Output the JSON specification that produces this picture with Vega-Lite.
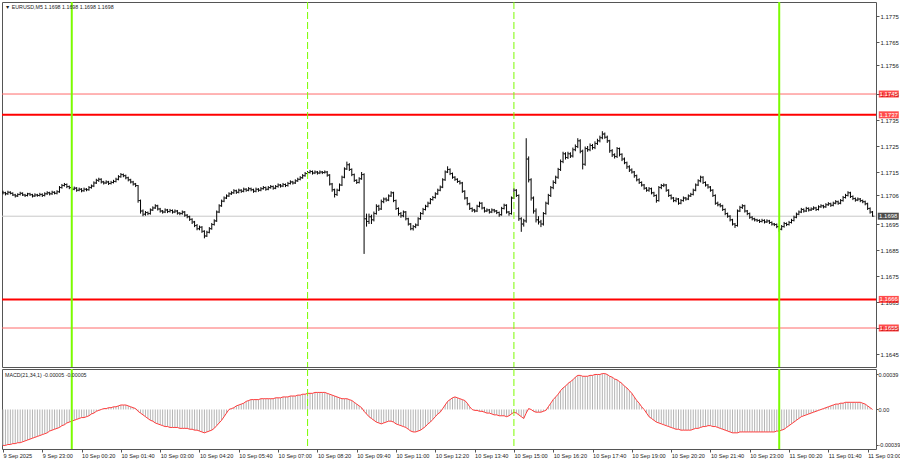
{
"$schema":"https://vega.github.io/schema/vega-lite/v6.json",
"background":"white",
"padding":{"left":1,"top":1,"right":0,"bottom":0},
"spacing":0,
"config":{"view":{"stroke":"#555555","strokeWidth":1},"scale":{"continuousPadding":0},"axis":{"labelFont":"Liberation Sans","labelFontSize":6,"labelColor":"#222222","tickColor":"#555555","tickSize":3,"labelPadding":1,"domain":false,"grid":false,"labelOverlap":false},"text":{"font":"Liberation Sans","fontSize":5.3,"color":"#222222"}},
"datasets":{
"bars":[
{"t":"2025-09-09T21:40","o":1.17072,"h":1.17078,"l":1.17064,"c":1.17070,"m":-0.00040},
{"t":"2025-09-09T21:45","o":1.17070,"h":1.17074,"l":1.17060,"c":1.17066,"m":-0.00040},
{"t":"2025-09-09T21:50","o":1.17066,"h":1.17078,"l":1.17062,"c":1.17072,"m":-0.00039},
{"t":"2025-09-09T21:55","o":1.17072,"h":1.17076,"l":1.17064,"c":1.17068,"m":-0.00039},
{"t":"2025-09-09T22:00","o":1.17068,"h":1.17072,"l":1.17058,"c":1.17062,"m":-0.00038},
{"t":"2025-09-09T22:05","o":1.17062,"h":1.17066,"l":1.17052,"c":1.17058,"m":-0.00038},
{"t":"2025-09-09T22:10","o":1.17058,"h":1.17068,"l":1.17054,"c":1.17064,"m":-0.00037},
{"t":"2025-09-09T22:15","o":1.17064,"h":1.17074,"l":1.17060,"c":1.17068,"m":-0.00037},
{"t":"2025-09-09T22:20","o":1.17068,"h":1.17072,"l":1.17058,"c":1.17062,"m":-0.00036},
{"t":"2025-09-09T22:25","o":1.17062,"h":1.17066,"l":1.17054,"c":1.17060,"m":-0.00035},
{"t":"2025-09-09T22:30","o":1.17060,"h":1.17070,"l":1.17056,"c":1.17066,"m":-0.00034},
{"t":"2025-09-09T22:35","o":1.17066,"h":1.17070,"l":1.17058,"c":1.17063,"m":-0.00033},
{"t":"2025-09-09T22:40","o":1.17063,"h":1.17066,"l":1.17052,"c":1.17058,"m":-0.00032},
{"t":"2025-09-09T22:45","o":1.17058,"h":1.17068,"l":1.17054,"c":1.17062,"m":-0.00031},
{"t":"2025-09-09T22:50","o":1.17062,"h":1.17066,"l":1.17055,"c":1.17060,"m":-0.00030},
{"t":"2025-09-09T22:55","o":1.17060,"h":1.17070,"l":1.17056,"c":1.17064,"m":-0.00029},
{"t":"2025-09-09T23:00","o":1.17064,"h":1.17068,"l":1.17054,"c":1.17060,"m":-0.00028},
{"t":"2025-09-09T23:05","o":1.17060,"h":1.17072,"l":1.17056,"c":1.17066,"m":-0.00027},
{"t":"2025-09-09T23:10","o":1.17066,"h":1.17076,"l":1.17062,"c":1.17070,"m":-0.00026},
{"t":"2025-09-09T23:15","o":1.17070,"h":1.17074,"l":1.17060,"c":1.17066,"m":-0.00024},
{"t":"2025-09-09T23:20","o":1.17066,"h":1.17078,"l":1.17062,"c":1.17072,"m":-0.00023},
{"t":"2025-09-09T23:25","o":1.17072,"h":1.17076,"l":1.17064,"c":1.17068,"m":-0.00022},
{"t":"2025-09-09T23:30","o":1.17068,"h":1.17080,"l":1.17064,"c":1.17074,"m":-0.00021},
{"t":"2025-09-09T23:35","o":1.17074,"h":1.17096,"l":1.17070,"c":1.17090,"m":-0.00020},
{"t":"2025-09-09T23:40","o":1.17090,"h":1.17104,"l":1.17086,"c":1.17098,"m":-0.00018},
{"t":"2025-09-09T23:45","o":1.17098,"h":1.17108,"l":1.17094,"c":1.17102,"m":-0.00017},
{"t":"2025-09-09T23:50","o":1.17102,"h":1.17106,"l":1.17088,"c":1.17094,"m":-0.00015},
{"t":"2025-09-09T23:55","o":1.17094,"h":1.17098,"l":1.17084,"c":1.17090,"m":-0.00014},
{"t":"2025-09-10T00:00","o":1.17090,"h":1.17094,"l":1.17078,"c":1.17084,"m":-0.00013},
{"t":"2025-09-10T00:05","o":1.17084,"h":1.17094,"l":1.17080,"c":1.17088,"m":-0.00012},
{"t":"2025-09-10T00:10","o":1.17088,"h":1.17092,"l":1.17074,"c":1.17080,"m":-0.00011},
{"t":"2025-09-10T00:15","o":1.17080,"h":1.17090,"l":1.17076,"c":1.17084,"m":-0.00010},
{"t":"2025-09-10T00:20","o":1.17084,"h":1.17088,"l":1.17072,"c":1.17078,"m":-0.00009},
{"t":"2025-09-10T00:25","o":1.17078,"h":1.17090,"l":1.17074,"c":1.17084,"m":-0.00009},
{"t":"2025-09-10T00:30","o":1.17084,"h":1.17088,"l":1.17076,"c":1.17082,"m":-0.00008},
{"t":"2025-09-10T00:35","o":1.17082,"h":1.17096,"l":1.17078,"c":1.17090,"m":-0.00007},
{"t":"2025-09-10T00:40","o":1.17090,"h":1.17102,"l":1.17086,"c":1.17096,"m":-0.00005},
{"t":"2025-09-10T00:45","o":1.17096,"h":1.17114,"l":1.17092,"c":1.17108,"m":-0.00004},
{"t":"2025-09-10T00:50","o":1.17108,"h":1.17124,"l":1.17104,"c":1.17118,"m":-0.00002},
{"t":"2025-09-10T00:55","o":1.17118,"h":1.17128,"l":1.17112,"c":1.17122,"m":-0.00001},
{"t":"2025-09-10T01:00","o":1.17122,"h":1.17126,"l":1.17106,"c":1.17112,"m":0.00000},
{"t":"2025-09-10T01:05","o":1.17112,"h":1.17116,"l":1.17102,"c":1.17108,"m":0.00001},
{"t":"2025-09-10T01:10","o":1.17108,"h":1.17118,"l":1.17104,"c":1.17112,"m":0.00001},
{"t":"2025-09-10T01:15","o":1.17112,"h":1.17116,"l":1.17100,"c":1.17106,"m":0.00002},
{"t":"2025-09-10T01:20","o":1.17106,"h":1.17116,"l":1.17102,"c":1.17110,"m":0.00002},
{"t":"2025-09-10T01:25","o":1.17110,"h":1.17120,"l":1.17106,"c":1.17114,"m":0.00003},
{"t":"2025-09-10T01:30","o":1.17114,"h":1.17128,"l":1.17110,"c":1.17122,"m":0.00003},
{"t":"2025-09-10T01:35","o":1.17122,"h":1.17138,"l":1.17118,"c":1.17132,"m":0.00004},
{"t":"2025-09-10T01:40","o":1.17132,"h":1.17146,"l":1.17128,"c":1.17140,"m":0.00005},
{"t":"2025-09-10T01:45","o":1.17140,"h":1.17144,"l":1.17130,"c":1.17136,"m":0.00005},
{"t":"2025-09-10T01:50","o":1.17136,"h":1.17140,"l":1.17122,"c":1.17128,"m":0.00005},
{"t":"2025-09-10T01:55","o":1.17128,"h":1.17132,"l":1.17114,"c":1.17120,"m":0.00004},
{"t":"2025-09-10T02:00","o":1.17120,"h":1.17124,"l":1.17106,"c":1.17112,"m":0.00003},
{"t":"2025-09-10T02:05","o":1.17112,"h":1.17116,"l":1.17098,"c":1.17104,"m":0.00002},
{"t":"2025-09-10T02:10","o":1.17104,"h":1.17108,"l":1.17092,"c":1.17098,"m":0.00001},
{"t":"2025-09-10T02:15","o":1.17098,"h":1.17100,"l":1.17032,"c":1.17040,"m":-0.00002},
{"t":"2025-09-10T02:20","o":1.17040,"h":1.17044,"l":1.16990,"c":1.17000,"m":-0.00004},
{"t":"2025-09-10T02:25","o":1.17000,"h":1.17006,"l":1.16980,"c":1.16988,"m":-0.00006},
{"t":"2025-09-10T02:30","o":1.16988,"h":1.17000,"l":1.16982,"c":1.16994,"m":-0.00008},
{"t":"2025-09-10T02:35","o":1.16994,"h":1.16998,"l":1.16984,"c":1.16990,"m":-0.00010},
{"t":"2025-09-10T02:40","o":1.16990,"h":1.17010,"l":1.16986,"c":1.17004,"m":-0.00012},
{"t":"2025-09-10T02:45","o":1.17004,"h":1.17018,"l":1.17000,"c":1.17012,"m":-0.00013},
{"t":"2025-09-10T02:50","o":1.17012,"h":1.17026,"l":1.17008,"c":1.17020,"m":-0.00015},
{"t":"2025-09-10T02:55","o":1.17020,"h":1.17024,"l":1.17002,"c":1.17008,"m":-0.00016},
{"t":"2025-09-10T03:00","o":1.17008,"h":1.17012,"l":1.16994,"c":1.17000,"m":-0.00017},
{"t":"2025-09-10T03:05","o":1.17000,"h":1.17004,"l":1.16990,"c":1.16996,"m":-0.00018},
{"t":"2025-09-10T03:10","o":1.16996,"h":1.17010,"l":1.16992,"c":1.17004,"m":-0.00019},
{"t":"2025-09-10T03:15","o":1.17004,"h":1.17008,"l":1.16992,"c":1.16998,"m":-0.00019},
{"t":"2025-09-10T03:20","o":1.16998,"h":1.17008,"l":1.16994,"c":1.17002,"m":-0.00020},
{"t":"2025-09-10T03:25","o":1.17002,"h":1.17006,"l":1.16990,"c":1.16996,"m":-0.00020},
{"t":"2025-09-10T03:30","o":1.16996,"h":1.17006,"l":1.16992,"c":1.17000,"m":-0.00020},
{"t":"2025-09-10T03:35","o":1.17000,"h":1.17004,"l":1.16986,"c":1.16992,"m":-0.00020},
{"t":"2025-09-10T03:40","o":1.16992,"h":1.16996,"l":1.16984,"c":1.16990,"m":-0.00021},
{"t":"2025-09-10T03:45","o":1.16990,"h":1.17002,"l":1.16986,"c":1.16996,"m":-0.00021},
{"t":"2025-09-10T03:50","o":1.16996,"h":1.17000,"l":1.16978,"c":1.16984,"m":-0.00021},
{"t":"2025-09-10T03:55","o":1.16984,"h":1.16988,"l":1.16972,"c":1.16978,"m":-0.00021},
{"t":"2025-09-10T04:00","o":1.16978,"h":1.16982,"l":1.16962,"c":1.16968,"m":-0.00022},
{"t":"2025-09-10T04:05","o":1.16968,"h":1.16972,"l":1.16950,"c":1.16958,"m":-0.00022},
{"t":"2025-09-10T04:10","o":1.16958,"h":1.16962,"l":1.16938,"c":1.16944,"m":-0.00023},
{"t":"2025-09-10T04:15","o":1.16944,"h":1.16950,"l":1.16926,"c":1.16932,"m":-0.00023},
{"t":"2025-09-10T04:20","o":1.16932,"h":1.16944,"l":1.16926,"c":1.16938,"m":-0.00024},
{"t":"2025-09-10T04:25","o":1.16938,"h":1.16942,"l":1.16916,"c":1.16922,"m":-0.00025},
{"t":"2025-09-10T04:30","o":1.16922,"h":1.16926,"l":1.16895,"c":1.16904,"m":-0.00026},
{"t":"2025-09-10T04:35","o":1.16904,"h":1.16924,"l":1.16900,"c":1.16918,"m":-0.00025},
{"t":"2025-09-10T04:40","o":1.16918,"h":1.16938,"l":1.16914,"c":1.16932,"m":-0.00024},
{"t":"2025-09-10T04:45","o":1.16932,"h":1.16954,"l":1.16928,"c":1.16948,"m":-0.00023},
{"t":"2025-09-10T04:50","o":1.16948,"h":1.16968,"l":1.16944,"c":1.16962,"m":-0.00021},
{"t":"2025-09-10T04:55","o":1.16962,"h":1.17002,"l":1.16958,"c":1.16996,"m":-0.00018},
{"t":"2025-09-10T05:00","o":1.16996,"h":1.17026,"l":1.16992,"c":1.17020,"m":-0.00015},
{"t":"2025-09-10T05:05","o":1.17020,"h":1.17044,"l":1.17016,"c":1.17038,"m":-0.00012},
{"t":"2025-09-10T05:10","o":1.17038,"h":1.17056,"l":1.17034,"c":1.17050,"m":-0.00008},
{"t":"2025-09-10T05:15","o":1.17050,"h":1.17064,"l":1.17046,"c":1.17058,"m":-0.00004},
{"t":"2025-09-10T05:20","o":1.17058,"h":1.17072,"l":1.17054,"c":1.17066,"m":0.00000},
{"t":"2025-09-10T05:25","o":1.17066,"h":1.17076,"l":1.17062,"c":1.17070,"m":0.00001},
{"t":"2025-09-10T05:30","o":1.17070,"h":1.17084,"l":1.17066,"c":1.17078,"m":0.00002},
{"t":"2025-09-10T05:35","o":1.17078,"h":1.17082,"l":1.17066,"c":1.17072,"m":0.00004},
{"t":"2025-09-10T05:40","o":1.17072,"h":1.17086,"l":1.17068,"c":1.17080,"m":0.00005},
{"t":"2025-09-10T05:45","o":1.17080,"h":1.17084,"l":1.17070,"c":1.17076,"m":0.00006},
{"t":"2025-09-10T05:50","o":1.17076,"h":1.17090,"l":1.17072,"c":1.17084,"m":0.00007},
{"t":"2025-09-10T05:55","o":1.17084,"h":1.17088,"l":1.17074,"c":1.17080,"m":0.00009},
{"t":"2025-09-10T06:00","o":1.17080,"h":1.17092,"l":1.17076,"c":1.17086,"m":0.00010},
{"t":"2025-09-10T06:05","o":1.17086,"h":1.17090,"l":1.17076,"c":1.17082,"m":0.00011},
{"t":"2025-09-10T06:10","o":1.17082,"h":1.17086,"l":1.17070,"c":1.17076,"m":0.00011},
{"t":"2025-09-10T06:15","o":1.17076,"h":1.17090,"l":1.17072,"c":1.17084,"m":0.00011},
{"t":"2025-09-10T06:20","o":1.17084,"h":1.17088,"l":1.17074,"c":1.17080,"m":0.00011},
{"t":"2025-09-10T06:25","o":1.17080,"h":1.17092,"l":1.17076,"c":1.17086,"m":0.00012},
{"t":"2025-09-10T06:30","o":1.17086,"h":1.17096,"l":1.17082,"c":1.17090,"m":0.00012},
{"t":"2025-09-10T06:35","o":1.17090,"h":1.17094,"l":1.17078,"c":1.17084,"m":0.00012},
{"t":"2025-09-10T06:40","o":1.17084,"h":1.17096,"l":1.17080,"c":1.17090,"m":0.00012},
{"t":"2025-09-10T06:45","o":1.17090,"h":1.17100,"l":1.17086,"c":1.17094,"m":0.00012},
{"t":"2025-09-10T06:50","o":1.17094,"h":1.17098,"l":1.17082,"c":1.17088,"m":0.00012},
{"t":"2025-09-10T06:55","o":1.17088,"h":1.17100,"l":1.17084,"c":1.17094,"m":0.00013},
{"t":"2025-09-10T07:00","o":1.17094,"h":1.17106,"l":1.17090,"c":1.17100,"m":0.00013},
{"t":"2025-09-10T07:05","o":1.17100,"h":1.17104,"l":1.17090,"c":1.17096,"m":0.00013},
{"t":"2025-09-10T07:10","o":1.17096,"h":1.17108,"l":1.17092,"c":1.17102,"m":0.00014},
{"t":"2025-09-10T07:15","o":1.17102,"h":1.17106,"l":1.17092,"c":1.17098,"m":0.00014},
{"t":"2025-09-10T07:20","o":1.17098,"h":1.17112,"l":1.17094,"c":1.17106,"m":0.00014},
{"t":"2025-09-10T07:25","o":1.17106,"h":1.17118,"l":1.17102,"c":1.17112,"m":0.00015},
{"t":"2025-09-10T07:30","o":1.17112,"h":1.17116,"l":1.17102,"c":1.17108,"m":0.00015},
{"t":"2025-09-10T07:35","o":1.17108,"h":1.17122,"l":1.17104,"c":1.17116,"m":0.00015},
{"t":"2025-09-10T07:40","o":1.17116,"h":1.17128,"l":1.17112,"c":1.17122,"m":0.00016},
{"t":"2025-09-10T07:45","o":1.17122,"h":1.17134,"l":1.17118,"c":1.17128,"m":0.00016},
{"t":"2025-09-10T07:50","o":1.17128,"h":1.17142,"l":1.17124,"c":1.17136,"m":0.00017},
{"t":"2025-09-10T07:55","o":1.17136,"h":1.17150,"l":1.17132,"c":1.17144,"m":0.00017},
{"t":"2025-09-10T08:00","o":1.17144,"h":1.17154,"l":1.17140,"c":1.17148,"m":0.00018},
{"t":"2025-09-10T08:05","o":1.17148,"h":1.17158,"l":1.17144,"c":1.17152,"m":0.00018},
{"t":"2025-09-10T08:10","o":1.17152,"h":1.17156,"l":1.17140,"c":1.17146,"m":0.00018},
{"t":"2025-09-10T08:15","o":1.17146,"h":1.17156,"l":1.17142,"c":1.17150,"m":0.00019},
{"t":"2025-09-10T08:20","o":1.17150,"h":1.17154,"l":1.17140,"c":1.17146,"m":0.00019},
{"t":"2025-09-10T08:25","o":1.17146,"h":1.17156,"l":1.17142,"c":1.17150,"m":0.00019},
{"t":"2025-09-10T08:30","o":1.17150,"h":1.17154,"l":1.17142,"c":1.17148,"m":0.00019},
{"t":"2025-09-10T08:35","o":1.17148,"h":1.17156,"l":1.17144,"c":1.17150,"m":0.00019},
{"t":"2025-09-10T08:40","o":1.17150,"h":1.17154,"l":1.17132,"c":1.17138,"m":0.00018},
{"t":"2025-09-10T08:45","o":1.17138,"h":1.17142,"l":1.17098,"c":1.17104,"m":0.00017},
{"t":"2025-09-10T08:50","o":1.17104,"h":1.17108,"l":1.17074,"c":1.17082,"m":0.00016},
{"t":"2025-09-10T08:55","o":1.17082,"h":1.17086,"l":1.17052,"c":1.17064,"m":0.00015},
{"t":"2025-09-10T09:00","o":1.17064,"h":1.17086,"l":1.17058,"c":1.17080,"m":0.00014},
{"t":"2025-09-10T09:05","o":1.17080,"h":1.17106,"l":1.17076,"c":1.17100,"m":0.00013},
{"t":"2025-09-10T09:10","o":1.17100,"h":1.17136,"l":1.17096,"c":1.17130,"m":0.00012},
{"t":"2025-09-10T09:15","o":1.17130,"h":1.17168,"l":1.17126,"c":1.17162,"m":0.00012},
{"t":"2025-09-10T09:20","o":1.17162,"h":1.17190,"l":1.17158,"c":1.17178,"m":0.00012},
{"t":"2025-09-10T09:25","o":1.17178,"h":1.17184,"l":1.17154,"c":1.17160,"m":0.00011},
{"t":"2025-09-10T09:30","o":1.17160,"h":1.17164,"l":1.17134,"c":1.17140,"m":0.00010},
{"t":"2025-09-10T09:35","o":1.17140,"h":1.17144,"l":1.17112,"c":1.17118,"m":0.00008},
{"t":"2025-09-10T09:40","o":1.17118,"h":1.17122,"l":1.17104,"c":1.17110,"m":0.00006},
{"t":"2025-09-10T09:45","o":1.17110,"h":1.17130,"l":1.17106,"c":1.17124,"m":0.00004},
{"t":"2025-09-10T09:50","o":1.17124,"h":1.17150,"l":1.17120,"c":1.17140,"m":0.00002},
{"t":"2025-09-10T09:55","o":1.17140,"h":1.17145,"l":1.16835,"c":1.16970,"m":-0.00002},
{"t":"2025-09-10T10:00","o":1.16970,"h":1.16990,"l":1.16940,"c":1.16960,"m":-0.00005},
{"t":"2025-09-10T10:05","o":1.16960,"h":1.16990,"l":1.16950,"c":1.16978,"m":-0.00008},
{"t":"2025-09-10T10:10","o":1.16978,"h":1.16986,"l":1.16950,"c":1.16966,"m":-0.00010},
{"t":"2025-09-10T10:15","o":1.16966,"h":1.16998,"l":1.16960,"c":1.16990,"m":-0.00012},
{"t":"2025-09-10T10:20","o":1.16990,"h":1.17026,"l":1.16986,"c":1.17018,"m":-0.00014},
{"t":"2025-09-10T10:25","o":1.17018,"h":1.17024,"l":1.17000,"c":1.17008,"m":-0.00015},
{"t":"2025-09-10T10:30","o":1.17008,"h":1.17044,"l":1.17004,"c":1.17036,"m":-0.00016},
{"t":"2025-09-10T10:35","o":1.17036,"h":1.17052,"l":1.17030,"c":1.17046,"m":-0.00015},
{"t":"2025-09-10T10:40","o":1.17046,"h":1.17052,"l":1.17036,"c":1.17042,"m":-0.00014},
{"t":"2025-09-10T10:45","o":1.17042,"h":1.17064,"l":1.17038,"c":1.17058,"m":-0.00013},
{"t":"2025-09-10T10:50","o":1.17058,"h":1.17076,"l":1.17054,"c":1.17070,"m":-0.00013},
{"t":"2025-09-10T10:55","o":1.17070,"h":1.17074,"l":1.17034,"c":1.17040,"m":-0.00014},
{"t":"2025-09-10T11:00","o":1.17040,"h":1.17044,"l":1.17004,"c":1.17010,"m":-0.00016},
{"t":"2025-09-10T11:05","o":1.17010,"h":1.17014,"l":1.16982,"c":1.16990,"m":-0.00017},
{"t":"2025-09-10T11:10","o":1.16990,"h":1.16996,"l":1.16974,"c":1.16982,"m":-0.00018},
{"t":"2025-09-10T11:15","o":1.16982,"h":1.17002,"l":1.16976,"c":1.16996,"m":-0.00019},
{"t":"2025-09-10T11:20","o":1.16996,"h":1.17000,"l":1.16964,"c":1.16970,"m":-0.00020},
{"t":"2025-09-10T11:25","o":1.16970,"h":1.16974,"l":1.16944,"c":1.16950,"m":-0.00022},
{"t":"2025-09-10T11:30","o":1.16950,"h":1.16954,"l":1.16926,"c":1.16932,"m":-0.00024},
{"t":"2025-09-10T11:35","o":1.16932,"h":1.16946,"l":1.16925,"c":1.16940,"m":-0.00025},
{"t":"2025-09-10T11:40","o":1.16940,"h":1.16952,"l":1.16934,"c":1.16946,"m":-0.00025},
{"t":"2025-09-10T11:45","o":1.16946,"h":1.16976,"l":1.16942,"c":1.16970,"m":-0.00024},
{"t":"2025-09-10T11:50","o":1.16970,"h":1.16996,"l":1.16966,"c":1.16990,"m":-0.00023},
{"t":"2025-09-10T11:55","o":1.16990,"h":1.17012,"l":1.16986,"c":1.17006,"m":-0.00021},
{"t":"2025-09-10T12:00","o":1.17006,"h":1.17024,"l":1.17002,"c":1.17018,"m":-0.00019},
{"t":"2025-09-10T12:05","o":1.17018,"h":1.17036,"l":1.17014,"c":1.17030,"m":-0.00016},
{"t":"2025-09-10T12:10","o":1.17030,"h":1.17050,"l":1.17026,"c":1.17044,"m":-0.00014},
{"t":"2025-09-10T12:15","o":1.17044,"h":1.17058,"l":1.17040,"c":1.17052,"m":-0.00011},
{"t":"2025-09-10T12:20","o":1.17052,"h":1.17072,"l":1.17048,"c":1.17066,"m":-0.00008},
{"t":"2025-09-10T12:25","o":1.17066,"h":1.17086,"l":1.17062,"c":1.17080,"m":-0.00005},
{"t":"2025-09-10T12:30","o":1.17080,"h":1.17098,"l":1.17076,"c":1.17092,"m":-0.00003},
{"t":"2025-09-10T12:35","o":1.17092,"h":1.17126,"l":1.17088,"c":1.17120,"m":0.00001},
{"t":"2025-09-10T12:40","o":1.17120,"h":1.17156,"l":1.17116,"c":1.17150,"m":0.00005},
{"t":"2025-09-10T12:45","o":1.17150,"h":1.17172,"l":1.17146,"c":1.17160,"m":0.00009},
{"t":"2025-09-10T12:50","o":1.17160,"h":1.17164,"l":1.17138,"c":1.17144,"m":0.00011},
{"t":"2025-09-10T12:55","o":1.17144,"h":1.17148,"l":1.17124,"c":1.17130,"m":0.00013},
{"t":"2025-09-10T13:00","o":1.17130,"h":1.17134,"l":1.17116,"c":1.17122,"m":0.00014},
{"t":"2025-09-10T13:05","o":1.17122,"h":1.17126,"l":1.17108,"c":1.17114,"m":0.00013},
{"t":"2025-09-10T13:10","o":1.17114,"h":1.17118,"l":1.17102,"c":1.17108,"m":0.00012},
{"t":"2025-09-10T13:15","o":1.17108,"h":1.17112,"l":1.17070,"c":1.17076,"m":0.00011},
{"t":"2025-09-10T13:20","o":1.17076,"h":1.17080,"l":1.17044,"c":1.17050,"m":0.00010},
{"t":"2025-09-10T13:25","o":1.17050,"h":1.17054,"l":1.17022,"c":1.17028,"m":0.00007},
{"t":"2025-09-10T13:30","o":1.17028,"h":1.17032,"l":1.17004,"c":1.17010,"m":0.00003},
{"t":"2025-09-10T13:35","o":1.17010,"h":1.17014,"l":1.16996,"c":1.17004,"m":0.00000},
{"t":"2025-09-10T13:40","o":1.17004,"h":1.17008,"l":1.16994,"c":1.17000,"m":-0.00001},
{"t":"2025-09-10T13:45","o":1.17000,"h":1.17024,"l":1.16996,"c":1.17018,"m":-0.00001},
{"t":"2025-09-10T13:50","o":1.17018,"h":1.17036,"l":1.17014,"c":1.17030,"m":-0.00002},
{"t":"2025-09-10T13:55","o":1.17030,"h":1.17034,"l":1.17006,"c":1.17012,"m":-0.00002},
{"t":"2025-09-10T14:00","o":1.17012,"h":1.17016,"l":1.16994,"c":1.17000,"m":-0.00003},
{"t":"2025-09-10T14:05","o":1.17000,"h":1.17010,"l":1.16996,"c":1.17004,"m":-0.00004},
{"t":"2025-09-10T14:10","o":1.17004,"h":1.17008,"l":1.16990,"c":1.16996,"m":-0.00004},
{"t":"2025-09-10T14:15","o":1.16996,"h":1.17010,"l":1.16992,"c":1.17004,"m":-0.00005},
{"t":"2025-09-10T14:20","o":1.17004,"h":1.17008,"l":1.16994,"c":1.17000,"m":-0.00006},
{"t":"2025-09-10T14:25","o":1.17000,"h":1.17004,"l":1.16988,"c":1.16994,"m":-0.00006},
{"t":"2025-09-10T14:30","o":1.16994,"h":1.16998,"l":1.16978,"c":1.16986,"m":-0.00007},
{"t":"2025-09-10T14:35","o":1.16986,"h":1.17016,"l":1.16982,"c":1.17010,"m":-0.00007},
{"t":"2025-09-10T14:40","o":1.17010,"h":1.17028,"l":1.17006,"c":1.17022,"m":-0.00007},
{"t":"2025-09-10T14:45","o":1.17022,"h":1.17026,"l":1.16990,"c":1.16996,"m":-0.00008},
{"t":"2025-09-10T14:50","o":1.16996,"h":1.17000,"l":1.16982,"c":1.16990,"m":-0.00007},
{"t":"2025-09-10T14:55","o":1.16990,"h":1.17056,"l":1.16986,"c":1.17050,"m":-0.00005},
{"t":"2025-09-10T15:00","o":1.17050,"h":1.17088,"l":1.17046,"c":1.17080,"m":-0.00003},
{"t":"2025-09-10T15:05","o":1.17080,"h":1.17084,"l":1.17054,"c":1.17060,"m":-0.00004},
{"t":"2025-09-10T15:10","o":1.17060,"h":1.17064,"l":1.16962,"c":1.16970,"m":-0.00006},
{"t":"2025-09-10T15:15","o":1.16970,"h":1.16976,"l":1.16920,"c":1.16950,"m":-0.00008},
{"t":"2025-09-10T15:20","o":1.16950,"h":1.16970,"l":1.16940,"c":1.16962,"m":-0.00010},
{"t":"2025-09-10T15:25","o":1.16962,"h":1.17280,"l":1.16955,"c":1.17200,"m":-0.00004},
{"t":"2025-09-10T15:30","o":1.17200,"h":1.17210,"l":1.17110,"c":1.17120,"m":0.00001},
{"t":"2025-09-10T15:35","o":1.17120,"h":1.17126,"l":1.17040,"c":1.17050,"m":0.00000},
{"t":"2025-09-10T15:40","o":1.17050,"h":1.17056,"l":1.16990,"c":1.17000,"m":-0.00002},
{"t":"2025-09-10T15:45","o":1.17000,"h":1.17010,"l":1.16956,"c":1.16966,"m":-0.00003},
{"t":"2025-09-10T15:50","o":1.16966,"h":1.16980,"l":1.16948,"c":1.16958,"m":-0.00003},
{"t":"2025-09-10T15:55","o":1.16958,"h":1.16966,"l":1.16938,"c":1.16950,"m":-0.00003},
{"t":"2025-09-10T16:00","o":1.16950,"h":1.16996,"l":1.16944,"c":1.16990,"m":-0.00002},
{"t":"2025-09-10T16:05","o":1.16990,"h":1.17036,"l":1.16986,"c":1.17030,"m":-0.00001},
{"t":"2025-09-10T16:10","o":1.17030,"h":1.17066,"l":1.17024,"c":1.17060,"m":0.00003},
{"t":"2025-09-10T16:15","o":1.17060,"h":1.17096,"l":1.17054,"c":1.17090,"m":0.00007},
{"t":"2025-09-10T16:20","o":1.17090,"h":1.17118,"l":1.17084,"c":1.17110,"m":0.00011},
{"t":"2025-09-10T16:25","o":1.17110,"h":1.17136,"l":1.17104,"c":1.17130,"m":0.00014},
{"t":"2025-09-10T16:30","o":1.17130,"h":1.17166,"l":1.17124,"c":1.17160,"m":0.00017},
{"t":"2025-09-10T16:35","o":1.17160,"h":1.17198,"l":1.17154,"c":1.17190,"m":0.00021},
{"t":"2025-09-10T16:40","o":1.17190,"h":1.17228,"l":1.17184,"c":1.17220,"m":0.00024},
{"t":"2025-09-10T16:45","o":1.17220,"h":1.17226,"l":1.17198,"c":1.17206,"m":0.00026},
{"t":"2025-09-10T16:50","o":1.17206,"h":1.17228,"l":1.17200,"c":1.17220,"m":0.00029},
{"t":"2025-09-10T16:55","o":1.17220,"h":1.17226,"l":1.17204,"c":1.17212,"m":0.00031},
{"t":"2025-09-10T17:00","o":1.17212,"h":1.17244,"l":1.17206,"c":1.17236,"m":0.00033},
{"t":"2025-09-10T17:05","o":1.17236,"h":1.17256,"l":1.17230,"c":1.17248,"m":0.00036},
{"t":"2025-09-10T17:10","o":1.17248,"h":1.17280,"l":1.17242,"c":1.17270,"m":0.00038},
{"t":"2025-09-10T17:15","o":1.17270,"h":1.17276,"l":1.17222,"c":1.17230,"m":0.00038},
{"t":"2025-09-10T17:20","o":1.17230,"h":1.17236,"l":1.17160,"c":1.17180,"m":0.00037},
{"t":"2025-09-10T17:25","o":1.17180,"h":1.17248,"l":1.17174,"c":1.17240,"m":0.00037},
{"t":"2025-09-10T17:30","o":1.17240,"h":1.17250,"l":1.17228,"c":1.17236,"m":0.00037},
{"t":"2025-09-10T17:35","o":1.17236,"h":1.17260,"l":1.17230,"c":1.17252,"m":0.00038},
{"t":"2025-09-10T17:40","o":1.17252,"h":1.17258,"l":1.17236,"c":1.17244,"m":0.00038},
{"t":"2025-09-10T17:45","o":1.17244,"h":1.17268,"l":1.17238,"c":1.17260,"m":0.00039},
{"t":"2025-09-10T17:50","o":1.17260,"h":1.17278,"l":1.17254,"c":1.17270,"m":0.00039},
{"t":"2025-09-10T17:55","o":1.17270,"h":1.17290,"l":1.17264,"c":1.17282,"m":0.00039},
{"t":"2025-09-10T18:00","o":1.17282,"h":1.17307,"l":1.17276,"c":1.17296,"m":0.00040},
{"t":"2025-09-10T18:05","o":1.17296,"h":1.17302,"l":1.17278,"c":1.17284,"m":0.00040},
{"t":"2025-09-10T18:10","o":1.17284,"h":1.17290,"l":1.17262,"c":1.17270,"m":0.00039},
{"t":"2025-09-10T18:15","o":1.17270,"h":1.17274,"l":1.17224,"c":1.17232,"m":0.00037},
{"t":"2025-09-10T18:20","o":1.17232,"h":1.17238,"l":1.17208,"c":1.17216,"m":0.00036},
{"t":"2025-09-10T18:25","o":1.17216,"h":1.17222,"l":1.17202,"c":1.17210,"m":0.00034},
{"t":"2025-09-10T18:30","o":1.17210,"h":1.17246,"l":1.17204,"c":1.17240,"m":0.00033},
{"t":"2025-09-10T18:35","o":1.17240,"h":1.17244,"l":1.17210,"c":1.17218,"m":0.00031},
{"t":"2025-09-10T18:40","o":1.17218,"h":1.17222,"l":1.17192,"c":1.17200,"m":0.00029},
{"t":"2025-09-10T18:45","o":1.17200,"h":1.17206,"l":1.17180,"c":1.17186,"m":0.00026},
{"t":"2025-09-10T18:50","o":1.17186,"h":1.17190,"l":1.17162,"c":1.17170,"m":0.00024},
{"t":"2025-09-10T18:55","o":1.17170,"h":1.17176,"l":1.17150,"c":1.17158,"m":0.00021},
{"t":"2025-09-10T19:00","o":1.17158,"h":1.17164,"l":1.17144,"c":1.17150,"m":0.00018},
{"t":"2025-09-10T19:05","o":1.17150,"h":1.17154,"l":1.17128,"c":1.17136,"m":0.00014},
{"t":"2025-09-10T19:10","o":1.17136,"h":1.17140,"l":1.17114,"c":1.17120,"m":0.00010},
{"t":"2025-09-10T19:15","o":1.17120,"h":1.17126,"l":1.17104,"c":1.17110,"m":0.00007},
{"t":"2025-09-10T19:20","o":1.17110,"h":1.17114,"l":1.17094,"c":1.17100,"m":0.00003},
{"t":"2025-09-10T19:25","o":1.17100,"h":1.17104,"l":1.17082,"c":1.17088,"m":0.00000},
{"t":"2025-09-10T19:30","o":1.17088,"h":1.17092,"l":1.17074,"c":1.17080,"m":-0.00004},
{"t":"2025-09-10T19:35","o":1.17080,"h":1.17092,"l":1.17074,"c":1.17086,"m":-0.00008},
{"t":"2025-09-10T19:40","o":1.17086,"h":1.17090,"l":1.17064,"c":1.17070,"m":-0.00010},
{"t":"2025-09-10T19:45","o":1.17070,"h":1.17074,"l":1.17054,"c":1.17060,"m":-0.00012},
{"t":"2025-09-10T19:50","o":1.17060,"h":1.17064,"l":1.17032,"c":1.17040,"m":-0.00014},
{"t":"2025-09-10T19:55","o":1.17040,"h":1.17096,"l":1.17036,"c":1.17090,"m":-0.00015},
{"t":"2025-09-10T20:00","o":1.17090,"h":1.17104,"l":1.17084,"c":1.17098,"m":-0.00016},
{"t":"2025-09-10T20:05","o":1.17098,"h":1.17106,"l":1.17092,"c":1.17100,"m":-0.00017},
{"t":"2025-09-10T20:10","o":1.17100,"h":1.17104,"l":1.17074,"c":1.17080,"m":-0.00018},
{"t":"2025-09-10T20:15","o":1.17080,"h":1.17084,"l":1.17054,"c":1.17060,"m":-0.00019},
{"t":"2025-09-10T20:20","o":1.17060,"h":1.17064,"l":1.17044,"c":1.17050,"m":-0.00020},
{"t":"2025-09-10T20:25","o":1.17050,"h":1.17054,"l":1.17034,"c":1.17040,"m":-0.00021},
{"t":"2025-09-10T20:30","o":1.17040,"h":1.17052,"l":1.17034,"c":1.17046,"m":-0.00022},
{"t":"2025-09-10T20:35","o":1.17046,"h":1.17050,"l":1.17024,"c":1.17030,"m":-0.00022},
{"t":"2025-09-10T20:40","o":1.17030,"h":1.17046,"l":1.17026,"c":1.17040,"m":-0.00023},
{"t":"2025-09-10T20:45","o":1.17040,"h":1.17056,"l":1.17036,"c":1.17050,"m":-0.00023},
{"t":"2025-09-10T20:50","o":1.17050,"h":1.17054,"l":1.17040,"c":1.17046,"m":-0.00023},
{"t":"2025-09-10T20:55","o":1.17046,"h":1.17064,"l":1.17042,"c":1.17058,"m":-0.00023},
{"t":"2025-09-10T21:00","o":1.17058,"h":1.17070,"l":1.17054,"c":1.17064,"m":-0.00023},
{"t":"2025-09-10T21:05","o":1.17064,"h":1.17086,"l":1.17060,"c":1.17080,"m":-0.00022},
{"t":"2025-09-10T21:10","o":1.17080,"h":1.17106,"l":1.17076,"c":1.17100,"m":-0.00021},
{"t":"2025-09-10T21:15","o":1.17100,"h":1.17122,"l":1.17096,"c":1.17116,"m":-0.00021},
{"t":"2025-09-10T21:20","o":1.17116,"h":1.17136,"l":1.17110,"c":1.17130,"m":-0.00020},
{"t":"2025-09-10T21:25","o":1.17130,"h":1.17134,"l":1.17104,"c":1.17110,"m":-0.00019},
{"t":"2025-09-10T21:30","o":1.17110,"h":1.17114,"l":1.17094,"c":1.17100,"m":-0.00019},
{"t":"2025-09-10T21:35","o":1.17100,"h":1.17104,"l":1.17086,"c":1.17092,"m":-0.00018},
{"t":"2025-09-10T21:40","o":1.17092,"h":1.17096,"l":1.17074,"c":1.17080,"m":-0.00018},
{"t":"2025-09-10T21:45","o":1.17080,"h":1.17084,"l":1.17054,"c":1.17060,"m":-0.00019},
{"t":"2025-09-10T21:50","o":1.17060,"h":1.17064,"l":1.17024,"c":1.17030,"m":-0.00019},
{"t":"2025-09-10T21:55","o":1.17030,"h":1.17036,"l":1.17018,"c":1.17024,"m":-0.00020},
{"t":"2025-09-10T22:00","o":1.17024,"h":1.17030,"l":1.17014,"c":1.17020,"m":-0.00021},
{"t":"2025-09-10T22:05","o":1.17020,"h":1.17024,"l":1.17000,"c":1.17006,"m":-0.00022},
{"t":"2025-09-10T22:10","o":1.17006,"h":1.17010,"l":1.16984,"c":1.16990,"m":-0.00023},
{"t":"2025-09-10T22:15","o":1.16990,"h":1.16994,"l":1.16974,"c":1.16980,"m":-0.00024},
{"t":"2025-09-10T22:20","o":1.16980,"h":1.16984,"l":1.16960,"c":1.16966,"m":-0.00025},
{"t":"2025-09-10T22:25","o":1.16966,"h":1.16970,"l":1.16944,"c":1.16950,"m":-0.00026},
{"t":"2025-09-10T22:30","o":1.16950,"h":1.16954,"l":1.16935,"c":1.16944,"m":-0.00026},
{"t":"2025-09-10T22:35","o":1.16944,"h":1.17006,"l":1.16940,"c":1.17000,"m":-0.00026},
{"t":"2025-09-10T22:40","o":1.17000,"h":1.17020,"l":1.16996,"c":1.17014,"m":-0.00025},
{"t":"2025-09-10T22:45","o":1.17014,"h":1.17026,"l":1.17008,"c":1.17020,"m":-0.00025},
{"t":"2025-09-10T22:50","o":1.17020,"h":1.17024,"l":1.16994,"c":1.17000,"m":-0.00025},
{"t":"2025-09-10T22:55","o":1.17000,"h":1.17004,"l":1.16984,"c":1.16990,"m":-0.00025},
{"t":"2025-09-10T23:00","o":1.16990,"h":1.16994,"l":1.16970,"c":1.16976,"m":-0.00025},
{"t":"2025-09-10T23:05","o":1.16976,"h":1.16980,"l":1.16964,"c":1.16970,"m":-0.00025},
{"t":"2025-09-10T23:10","o":1.16970,"h":1.16974,"l":1.16960,"c":1.16966,"m":-0.00025},
{"t":"2025-09-10T23:15","o":1.16966,"h":1.16970,"l":1.16958,"c":1.16964,"m":-0.00025},
{"t":"2025-09-10T23:20","o":1.16964,"h":1.16968,"l":1.16954,"c":1.16960,"m":-0.00025},
{"t":"2025-09-10T23:25","o":1.16960,"h":1.16970,"l":1.16956,"c":1.16964,"m":-0.00025},
{"t":"2025-09-10T23:30","o":1.16964,"h":1.16968,"l":1.16952,"c":1.16958,"m":-0.00025},
{"t":"2025-09-10T23:35","o":1.16958,"h":1.16968,"l":1.16954,"c":1.16962,"m":-0.00025},
{"t":"2025-09-10T23:40","o":1.16962,"h":1.16966,"l":1.16950,"c":1.16956,"m":-0.00025},
{"t":"2025-09-10T23:45","o":1.16956,"h":1.16960,"l":1.16944,"c":1.16950,"m":-0.00025},
{"t":"2025-09-10T23:50","o":1.16950,"h":1.16954,"l":1.16942,"c":1.16948,"m":-0.00025},
{"t":"2025-09-10T23:55","o":1.16948,"h":1.16952,"l":1.16934,"c":1.16940,"m":-0.00024},
{"t":"2025-09-11T00:00","o":1.16940,"h":1.16944,"l":1.16920,"c":1.16930,"m":-0.00024},
{"t":"2025-09-11T00:05","o":1.16930,"h":1.16946,"l":1.16926,"c":1.16940,"m":-0.00023},
{"t":"2025-09-11T00:10","o":1.16940,"h":1.16958,"l":1.16936,"c":1.16952,"m":-0.00022},
{"t":"2025-09-11T00:15","o":1.16952,"h":1.16956,"l":1.16942,"c":1.16948,"m":-0.00020},
{"t":"2025-09-11T00:20","o":1.16948,"h":1.16962,"l":1.16944,"c":1.16956,"m":-0.00018},
{"t":"2025-09-11T00:25","o":1.16956,"h":1.16970,"l":1.16952,"c":1.16964,"m":-0.00016},
{"t":"2025-09-11T00:30","o":1.16964,"h":1.16982,"l":1.16960,"c":1.16976,"m":-0.00014},
{"t":"2025-09-11T00:35","o":1.16976,"h":1.16994,"l":1.16972,"c":1.16988,"m":-0.00012},
{"t":"2025-09-11T00:40","o":1.16988,"h":1.17002,"l":1.16984,"c":1.16996,"m":-0.00010},
{"t":"2025-09-11T00:45","o":1.16996,"h":1.17012,"l":1.16992,"c":1.17006,"m":-0.00008},
{"t":"2025-09-11T00:50","o":1.17006,"h":1.17010,"l":1.16994,"c":1.17000,"m":-0.00007},
{"t":"2025-09-11T00:55","o":1.17000,"h":1.17016,"l":1.16996,"c":1.17010,"m":-0.00006},
{"t":"2025-09-11T01:00","o":1.17010,"h":1.17014,"l":1.16998,"c":1.17004,"m":-0.00005},
{"t":"2025-09-11T01:05","o":1.17004,"h":1.17014,"l":1.17000,"c":1.17008,"m":-0.00004},
{"t":"2025-09-11T01:10","o":1.17008,"h":1.17018,"l":1.17004,"c":1.17012,"m":-0.00003},
{"t":"2025-09-11T01:15","o":1.17012,"h":1.17016,"l":1.17000,"c":1.17006,"m":-0.00002},
{"t":"2025-09-11T01:20","o":1.17006,"h":1.17022,"l":1.17002,"c":1.17016,"m":-0.00001},
{"t":"2025-09-11T01:25","o":1.17016,"h":1.17026,"l":1.17012,"c":1.17020,"m":0.00000},
{"t":"2025-09-11T01:30","o":1.17020,"h":1.17024,"l":1.17010,"c":1.17016,"m":0.00001},
{"t":"2025-09-11T01:35","o":1.17016,"h":1.17030,"l":1.17012,"c":1.17024,"m":0.00002},
{"t":"2025-09-11T01:40","o":1.17024,"h":1.17034,"l":1.17020,"c":1.17028,"m":0.00003},
{"t":"2025-09-11T01:45","o":1.17028,"h":1.17032,"l":1.17016,"c":1.17022,"m":0.00004},
{"t":"2025-09-11T01:50","o":1.17022,"h":1.17036,"l":1.17018,"c":1.17030,"m":0.00005},
{"t":"2025-09-11T01:55","o":1.17030,"h":1.17042,"l":1.17026,"c":1.17036,"m":0.00006},
{"t":"2025-09-11T02:00","o":1.17036,"h":1.17040,"l":1.17024,"c":1.17030,"m":0.00006},
{"t":"2025-09-11T02:05","o":1.17030,"h":1.17046,"l":1.17026,"c":1.17040,"m":0.00007},
{"t":"2025-09-11T02:10","o":1.17040,"h":1.17058,"l":1.17036,"c":1.17052,"m":0.00007},
{"t":"2025-09-11T02:15","o":1.17052,"h":1.17066,"l":1.17048,"c":1.17060,"m":0.00008},
{"t":"2025-09-11T02:20","o":1.17060,"h":1.17076,"l":1.17056,"c":1.17070,"m":0.00008},
{"t":"2025-09-11T02:25","o":1.17070,"h":1.17074,"l":1.17050,"c":1.17056,"m":0.00008},
{"t":"2025-09-11T02:30","o":1.17056,"h":1.17060,"l":1.17042,"c":1.17048,"m":0.00008},
{"t":"2025-09-11T02:35","o":1.17048,"h":1.17052,"l":1.17036,"c":1.17042,"m":0.00008},
{"t":"2025-09-11T02:40","o":1.17042,"h":1.17052,"l":1.17038,"c":1.17046,"m":0.00008},
{"t":"2025-09-11T02:45","o":1.17046,"h":1.17050,"l":1.17034,"c":1.17040,"m":0.00008},
{"t":"2025-09-11T02:50","o":1.17040,"h":1.17044,"l":1.17030,"c":1.17036,"m":0.00007},
{"t":"2025-09-11T02:55","o":1.17036,"h":1.17040,"l":1.17022,"c":1.17028,"m":0.00006},
{"t":"2025-09-11T03:00","o":1.17028,"h":1.17032,"l":1.17004,"c":1.17010,"m":0.00004},
{"t":"2025-09-11T03:05","o":1.17010,"h":1.17014,"l":1.16990,"c":1.16996,"m":0.00002},
{"t":"2025-09-11T03:10","o":1.16996,"h":1.17000,"l":1.16978,"c":1.16980,"m":0.00000}
],
"midnight":[{"t":"2025-09-10T00:00"},{"t":"2025-09-11T00:00"}],
"session":[{"t":"2025-09-10T08:00"},{"t":"2025-09-10T15:00"}],
"levels":[{"p":1.1745,"kind":"minor"},{"p":1.1737,"kind":"major"},{"p":1.1666,"kind":"major"},{"p":1.1655,"kind":"minor"}],
"last":[{"p":1.1698}],
"header":[{"label":"▼ EURUSD,M5   1.1698 1.1698 1.1698 1.1698"}],
"macdhead":[{"label":"MACD(21,34,1) -0.00005 -0.00005"}]
},
"vconcat":[
{
"width":874,"height":365,
"layer":[
{"data":{"name":"last"},"mark":{"type":"rule","color":"#c8c8c8","strokeWidth":1,"clip":true},
 "encoding":{"y":{"field":"p","type":"quantitative","scale":{"domain":[1.164,1.17804],"nice":false,"zero":false,"padding":0},
  "axis":{"orient":"right","title":null,"labelOverlap":false,"labelFlush":false,"labelBound":false,"values":[1.1775,1.1765,1.1756,1.1745,1.1735,1.1725,1.1715,1.1706,1.1695,1.1685,1.1675,1.1665,1.1655,1.1645],"format":".4f"}}}},
{"data":{"name":"levels"},"mark":{"type":"rule","clip":true},
 "encoding":{"y":{"field":"p","type":"quantitative",
  "axis":{"orient":"right","title":null,"labelOverlap":false,"labelFlush":false,"labelBound":false,"values":[1.1775,1.1765,1.1756,1.1745,1.1735,1.1725,1.1715,1.1706,1.1695,1.1685,1.1675,1.1665,1.1655,1.1645],"format":".4f"}},
  "color":{"field":"kind","type":"nominal","scale":{"domain":["major","minor"],"range":["#ff0000","#ff6a6a"]},"legend":null},
  "strokeWidth":{"field":"kind","type":"nominal","scale":{"domain":["major","minor"],"range":[2,1]},"legend":null}}},
{"data":{"name":"bars"},"mark":{"type":"rule","color":"#000000","strokeWidth":1,"clip":true},
 "encoding":{"x":{"field":"t","type":"temporal","axis":null,"scale":{"padding":0,"domain":[{"year":2025,"month":9,"date":9,"hours":21,"minutes":38},{"year":2025,"month":9,"date":11,"hours":3,"minutes":17}]}},
  "y":{"field":"l","type":"quantitative",
  "axis":{"orient":"right","title":null,"labelOverlap":false,"labelFlush":false,"labelBound":false,"values":[1.1775,1.1765,1.1756,1.1745,1.1735,1.1725,1.1715,1.1706,1.1695,1.1685,1.1675,1.1665,1.1655,1.1645],"format":".4f"}},"y2":{"field":"h"}}},
{"data":{"name":"bars"},"mark":{"type":"tick","orient":"horizontal","color":"#000000","size":1.6,"thickness":1,"xOffset":-1,"clip":true},
 "encoding":{"x":{"field":"t","type":"temporal","axis":null},"y":{"field":"o","type":"quantitative",
  "axis":{"orient":"right","title":null,"labelOverlap":false,"labelFlush":false,"labelBound":false,"values":[1.1775,1.1765,1.1756,1.1745,1.1735,1.1725,1.1715,1.1706,1.1695,1.1685,1.1675,1.1665,1.1655,1.1645],"format":".4f"}}}},
{"data":{"name":"bars"},"mark":{"type":"tick","orient":"horizontal","color":"#000000","size":1.6,"thickness":1,"xOffset":1,"clip":true},
 "encoding":{"x":{"field":"t","type":"temporal","axis":null},"y":{"field":"c","type":"quantitative",
  "axis":{"orient":"right","title":null,"labelOverlap":false,"labelFlush":false,"labelBound":false,"values":[1.1775,1.1765,1.1756,1.1745,1.1735,1.1725,1.1715,1.1706,1.1695,1.1685,1.1675,1.1665,1.1655,1.1645],"format":".4f"}}}},
{"data":{"name":"midnight"},"mark":{"type":"rule","color":"#7CFC00","strokeWidth":2,"clip":true},"encoding":{"x":{"field":"t","type":"temporal","axis":null}}},
{"data":{"name":"session"},"mark":{"type":"rule","color":"#7CFC00","strokeWidth":1,"strokeDash":[7,3],"clip":true},"encoding":{"x":{"field":"t","type":"temporal","axis":null}}},
{"data":{"name":"levels"},"mark":{"type":"tick","orient":"horizontal","color":"#ff0000","size":20,"thickness":7},
 "encoding":{"x":{"datum":{"year":2025,"month":9,"date":11,"hours":3,"minutes":43},"type":"temporal","axis":null},
  "y":{"field":"p","type":"quantitative",
  "axis":{"orient":"right","title":null,"labelOverlap":false,"labelFlush":false,"labelBound":false,"values":[1.1775,1.1765,1.1756,1.1745,1.1735,1.1725,1.1715,1.1706,1.1695,1.1685,1.1675,1.1665,1.1655,1.1645],"format":".4f"}}}},
{"data":{"name":"last"},"mark":{"type":"tick","orient":"horizontal","color":"#000000","size":21,"thickness":7},
 "encoding":{"x":{"datum":{"year":2025,"month":9,"date":11,"hours":3,"minutes":42},"type":"temporal","axis":null},
  "y":{"field":"p","type":"quantitative",
  "axis":{"orient":"right","title":null,"labelOverlap":false,"labelFlush":false,"labelBound":false,"values":[1.1775,1.1765,1.1756,1.1745,1.1735,1.1725,1.1715,1.1706,1.1695,1.1685,1.1675,1.1665,1.1655,1.1645],"format":".4f"}}}},
{"data":{"name":"levels"},"mark":{"type":"text","color":"#ffffff","fontSize":6,"align":"center","baseline":"middle"},
 "encoding":{"x":{"datum":{"year":2025,"month":9,"date":11,"hours":3,"minutes":43},"type":"temporal","axis":null},
  "y":{"field":"p","type":"quantitative",
  "axis":{"orient":"right","title":null,"labelOverlap":false,"labelFlush":false,"labelBound":false,"values":[1.1775,1.1765,1.1756,1.1745,1.1735,1.1725,1.1715,1.1706,1.1695,1.1685,1.1675,1.1665,1.1655,1.1645],"format":".4f"}},
  "text":{"field":"p","type":"quantitative","format":".4f"}}},
{"data":{"name":"last"},"mark":{"type":"text","color":"#ffffff","fontSize":6,"align":"center","baseline":"middle"},
 "encoding":{"x":{"datum":{"year":2025,"month":9,"date":11,"hours":3,"minutes":42},"type":"temporal","axis":null},
  "y":{"field":"p","type":"quantitative",
  "axis":{"orient":"right","title":null,"labelOverlap":false,"labelFlush":false,"labelBound":false,"values":[1.1775,1.1765,1.1756,1.1745,1.1735,1.1725,1.1715,1.1706,1.1695,1.1685,1.1675,1.1665,1.1655,1.1645],"format":".4f"}},
  "text":{"field":"p","type":"quantitative","format":".4f"}}},
{"data":{"name":"header"},"mark":{"type":"text","align":"left","baseline":"middle","fontSize":5.3,"dx":2},
 "encoding":{"x":{"datum":{"year":2025,"month":9,"date":9,"hours":21,"minutes":40},"type":"temporal","axis":null},
  "y":{"datum":1.17785,"type":"quantitative",
  "axis":{"orient":"right","title":null,"labelOverlap":false,"labelFlush":false,"labelBound":false,"values":[1.1775,1.1765,1.1756,1.1745,1.1735,1.1725,1.1715,1.1706,1.1695,1.1685,1.1675,1.1665,1.1655,1.1645],"format":".4f"}},
  "text":{"field":"label","type":"nominal"}}}
]
},
{
"width":874,"height":80,
"layer":[
{"data":{"name":"bars"},"mark":{"type":"rule","color":"#b4b4b4","strokeWidth":1,"clip":true},
 "encoding":{"x":{"field":"t","type":"temporal","scale":{"padding":0,"domain":[{"year":2025,"month":9,"date":9,"hours":21,"minutes":38},{"year":2025,"month":9,"date":11,"hours":3,"minutes":17}]},
   "axis":{"orient":"bottom","title":null,"labelAlign":"left","labelBaseline":"top","labelFontSize":5.6,"labelOverlap":false,"labelFlush":false,"labelBound":false,
    "values":[{"year":2025,"month":9,"date":9,"hours":21,"minutes":40},{"year":2025,"month":9,"date":9,"hours":23,"minutes":0},{"year":2025,"month":9,"date":10,"hours":0,"minutes":20},{"year":2025,"month":9,"date":10,"hours":1,"minutes":40},{"year":2025,"month":9,"date":10,"hours":3,"minutes":0},{"year":2025,"month":9,"date":10,"hours":4,"minutes":20},{"year":2025,"month":9,"date":10,"hours":5,"minutes":40},{"year":2025,"month":9,"date":10,"hours":7,"minutes":0},{"year":2025,"month":9,"date":10,"hours":8,"minutes":20},{"year":2025,"month":9,"date":10,"hours":9,"minutes":40},{"year":2025,"month":9,"date":10,"hours":11,"minutes":0},{"year":2025,"month":9,"date":10,"hours":12,"minutes":20},{"year":2025,"month":9,"date":10,"hours":13,"minutes":40},{"year":2025,"month":9,"date":10,"hours":15,"minutes":0},{"year":2025,"month":9,"date":10,"hours":16,"minutes":20},{"year":2025,"month":9,"date":10,"hours":17,"minutes":40},{"year":2025,"month":9,"date":10,"hours":19,"minutes":0},{"year":2025,"month":9,"date":10,"hours":20,"minutes":20},{"year":2025,"month":9,"date":10,"hours":21,"minutes":40},{"year":2025,"month":9,"date":10,"hours":23,"minutes":0},{"year":2025,"month":9,"date":11,"hours":0,"minutes":20},{"year":2025,"month":9,"date":11,"hours":1,"minutes":40},{"year":2025,"month":9,"date":11,"hours":3,"minutes":0}],
    "labelExpr":"timeFormat(datum.value,'%d %H:%M')=='09 21:40' ? '9 Sep 2025' : timeFormat(datum.value,'%-d %b %H:%M')"}},
  "y":{"field":"m","type":"quantitative","scale":{"domain":[-0.00044,0.000451],"nice":false,"zero":false,"padding":0},
   "axis":{"orient":"right","title":null,"labelFontSize":5.5,"labelPadding":0,"tickSize":2,"labelOverlap":false,"labelFlush":false,"labelBound":false,"values":[0.00039,0,-0.00039],"labelExpr":"datum.value==0 ? '0.00' : (datum.value>0 ? '0.00039' : '-0.00039')"}},
  "y2":{"datum":0}}},
{"data":{"name":"bars"},"mark":{"type":"line","color":"#ff3b3b","strokeWidth":1,"clip":true},
 "encoding":{"x":{"field":"t","type":"temporal",
   "axis":{"orient":"bottom","title":null,"labelAlign":"left","labelBaseline":"top","labelFontSize":5.6,"labelOverlap":false,"labelFlush":false,"labelBound":false,
    "values":[{"year":2025,"month":9,"date":9,"hours":21,"minutes":40},{"year":2025,"month":9,"date":9,"hours":23,"minutes":0},{"year":2025,"month":9,"date":10,"hours":0,"minutes":20},{"year":2025,"month":9,"date":10,"hours":1,"minutes":40},{"year":2025,"month":9,"date":10,"hours":3,"minutes":0},{"year":2025,"month":9,"date":10,"hours":4,"minutes":20},{"year":2025,"month":9,"date":10,"hours":5,"minutes":40},{"year":2025,"month":9,"date":10,"hours":7,"minutes":0},{"year":2025,"month":9,"date":10,"hours":8,"minutes":20},{"year":2025,"month":9,"date":10,"hours":9,"minutes":40},{"year":2025,"month":9,"date":10,"hours":11,"minutes":0},{"year":2025,"month":9,"date":10,"hours":12,"minutes":20},{"year":2025,"month":9,"date":10,"hours":13,"minutes":40},{"year":2025,"month":9,"date":10,"hours":15,"minutes":0},{"year":2025,"month":9,"date":10,"hours":16,"minutes":20},{"year":2025,"month":9,"date":10,"hours":17,"minutes":40},{"year":2025,"month":9,"date":10,"hours":19,"minutes":0},{"year":2025,"month":9,"date":10,"hours":20,"minutes":20},{"year":2025,"month":9,"date":10,"hours":21,"minutes":40},{"year":2025,"month":9,"date":10,"hours":23,"minutes":0},{"year":2025,"month":9,"date":11,"hours":0,"minutes":20},{"year":2025,"month":9,"date":11,"hours":1,"minutes":40},{"year":2025,"month":9,"date":11,"hours":3,"minutes":0}],
    "labelExpr":"timeFormat(datum.value,'%d %H:%M')=='09 21:40' ? '9 Sep 2025' : timeFormat(datum.value,'%-d %b %H:%M')"}},
  "y":{"field":"m","type":"quantitative",
   "axis":{"orient":"right","title":null,"labelFontSize":5.5,"labelPadding":0,"tickSize":2,"labelOverlap":false,"labelFlush":false,"labelBound":false,"values":[0.00039,0,-0.00039],"labelExpr":"datum.value==0 ? '0.00' : (datum.value>0 ? '0.00039' : '-0.00039')"}}}},
{"data":{"name":"midnight"},"mark":{"type":"rule","color":"#7CFC00","strokeWidth":2,"clip":true},
 "encoding":{"x":{"field":"t","type":"temporal",
   "axis":{"orient":"bottom","title":null,"labelAlign":"left","labelBaseline":"top","labelFontSize":5.6,"labelOverlap":false,"labelFlush":false,"labelBound":false,
    "values":[{"year":2025,"month":9,"date":9,"hours":21,"minutes":40},{"year":2025,"month":9,"date":9,"hours":23,"minutes":0},{"year":2025,"month":9,"date":10,"hours":0,"minutes":20},{"year":2025,"month":9,"date":10,"hours":1,"minutes":40},{"year":2025,"month":9,"date":10,"hours":3,"minutes":0},{"year":2025,"month":9,"date":10,"hours":4,"minutes":20},{"year":2025,"month":9,"date":10,"hours":5,"minutes":40},{"year":2025,"month":9,"date":10,"hours":7,"minutes":0},{"year":2025,"month":9,"date":10,"hours":8,"minutes":20},{"year":2025,"month":9,"date":10,"hours":9,"minutes":40},{"year":2025,"month":9,"date":10,"hours":11,"minutes":0},{"year":2025,"month":9,"date":10,"hours":12,"minutes":20},{"year":2025,"month":9,"date":10,"hours":13,"minutes":40},{"year":2025,"month":9,"date":10,"hours":15,"minutes":0},{"year":2025,"month":9,"date":10,"hours":16,"minutes":20},{"year":2025,"month":9,"date":10,"hours":17,"minutes":40},{"year":2025,"month":9,"date":10,"hours":19,"minutes":0},{"year":2025,"month":9,"date":10,"hours":20,"minutes":20},{"year":2025,"month":9,"date":10,"hours":21,"minutes":40},{"year":2025,"month":9,"date":10,"hours":23,"minutes":0},{"year":2025,"month":9,"date":11,"hours":0,"minutes":20},{"year":2025,"month":9,"date":11,"hours":1,"minutes":40},{"year":2025,"month":9,"date":11,"hours":3,"minutes":0}],
    "labelExpr":"timeFormat(datum.value,'%d %H:%M')=='09 21:40' ? '9 Sep 2025' : timeFormat(datum.value,'%-d %b %H:%M')"}}}},
{"data":{"name":"session"},"mark":{"type":"rule","color":"#7CFC00","strokeWidth":1,"strokeDash":[7,3],"clip":true},
 "encoding":{"x":{"field":"t","type":"temporal",
   "axis":{"orient":"bottom","title":null,"labelAlign":"left","labelBaseline":"top","labelFontSize":5.6,"labelOverlap":false,"labelFlush":false,"labelBound":false,
    "values":[{"year":2025,"month":9,"date":9,"hours":21,"minutes":40},{"year":2025,"month":9,"date":9,"hours":23,"minutes":0},{"year":2025,"month":9,"date":10,"hours":0,"minutes":20},{"year":2025,"month":9,"date":10,"hours":1,"minutes":40},{"year":2025,"month":9,"date":10,"hours":3,"minutes":0},{"year":2025,"month":9,"date":10,"hours":4,"minutes":20},{"year":2025,"month":9,"date":10,"hours":5,"minutes":40},{"year":2025,"month":9,"date":10,"hours":7,"minutes":0},{"year":2025,"month":9,"date":10,"hours":8,"minutes":20},{"year":2025,"month":9,"date":10,"hours":9,"minutes":40},{"year":2025,"month":9,"date":10,"hours":11,"minutes":0},{"year":2025,"month":9,"date":10,"hours":12,"minutes":20},{"year":2025,"month":9,"date":10,"hours":13,"minutes":40},{"year":2025,"month":9,"date":10,"hours":15,"minutes":0},{"year":2025,"month":9,"date":10,"hours":16,"minutes":20},{"year":2025,"month":9,"date":10,"hours":17,"minutes":40},{"year":2025,"month":9,"date":10,"hours":19,"minutes":0},{"year":2025,"month":9,"date":10,"hours":20,"minutes":20},{"year":2025,"month":9,"date":10,"hours":21,"minutes":40},{"year":2025,"month":9,"date":10,"hours":23,"minutes":0},{"year":2025,"month":9,"date":11,"hours":0,"minutes":20},{"year":2025,"month":9,"date":11,"hours":1,"minutes":40},{"year":2025,"month":9,"date":11,"hours":3,"minutes":0}],
    "labelExpr":"timeFormat(datum.value,'%d %H:%M')=='09 21:40' ? '9 Sep 2025' : timeFormat(datum.value,'%-d %b %H:%M')"}}}},
{"data":{"name":"macdhead"},"mark":{"type":"text","align":"left","baseline":"middle","fontSize":5.3,"dx":2},
 "encoding":{"x":{"datum":{"year":2025,"month":9,"date":9,"hours":21,"minutes":40},"type":"temporal",
   "axis":{"orient":"bottom","title":null,"labelAlign":"left","labelBaseline":"top","labelFontSize":5.6,"labelOverlap":false,"labelFlush":false,"labelBound":false,
    "values":[{"year":2025,"month":9,"date":9,"hours":21,"minutes":40},{"year":2025,"month":9,"date":9,"hours":23,"minutes":0},{"year":2025,"month":9,"date":10,"hours":0,"minutes":20},{"year":2025,"month":9,"date":10,"hours":1,"minutes":40},{"year":2025,"month":9,"date":10,"hours":3,"minutes":0},{"year":2025,"month":9,"date":10,"hours":4,"minutes":20},{"year":2025,"month":9,"date":10,"hours":5,"minutes":40},{"year":2025,"month":9,"date":10,"hours":7,"minutes":0},{"year":2025,"month":9,"date":10,"hours":8,"minutes":20},{"year":2025,"month":9,"date":10,"hours":9,"minutes":40},{"year":2025,"month":9,"date":10,"hours":11,"minutes":0},{"year":2025,"month":9,"date":10,"hours":12,"minutes":20},{"year":2025,"month":9,"date":10,"hours":13,"minutes":40},{"year":2025,"month":9,"date":10,"hours":15,"minutes":0},{"year":2025,"month":9,"date":10,"hours":16,"minutes":20},{"year":2025,"month":9,"date":10,"hours":17,"minutes":40},{"year":2025,"month":9,"date":10,"hours":19,"minutes":0},{"year":2025,"month":9,"date":10,"hours":20,"minutes":20},{"year":2025,"month":9,"date":10,"hours":21,"minutes":40},{"year":2025,"month":9,"date":10,"hours":23,"minutes":0},{"year":2025,"month":9,"date":11,"hours":0,"minutes":20},{"year":2025,"month":9,"date":11,"hours":1,"minutes":40},{"year":2025,"month":9,"date":11,"hours":3,"minutes":0}],
    "labelExpr":"timeFormat(datum.value,'%d %H:%M')=='09 21:40' ? '9 Sep 2025' : timeFormat(datum.value,'%-d %b %H:%M')"}},
  "y":{"datum":0.000384,"type":"quantitative",
   "axis":{"orient":"right","title":null,"labelFontSize":5.5,"labelPadding":0,"tickSize":2,"labelOverlap":false,"labelFlush":false,"labelBound":false,"values":[0.00039,0,-0.00039],"labelExpr":"datum.value==0 ? '0.00' : (datum.value>0 ? '0.00039' : '-0.00039')"}},
  "text":{"field":"label","type":"nominal"}}}
]
}
]
}
